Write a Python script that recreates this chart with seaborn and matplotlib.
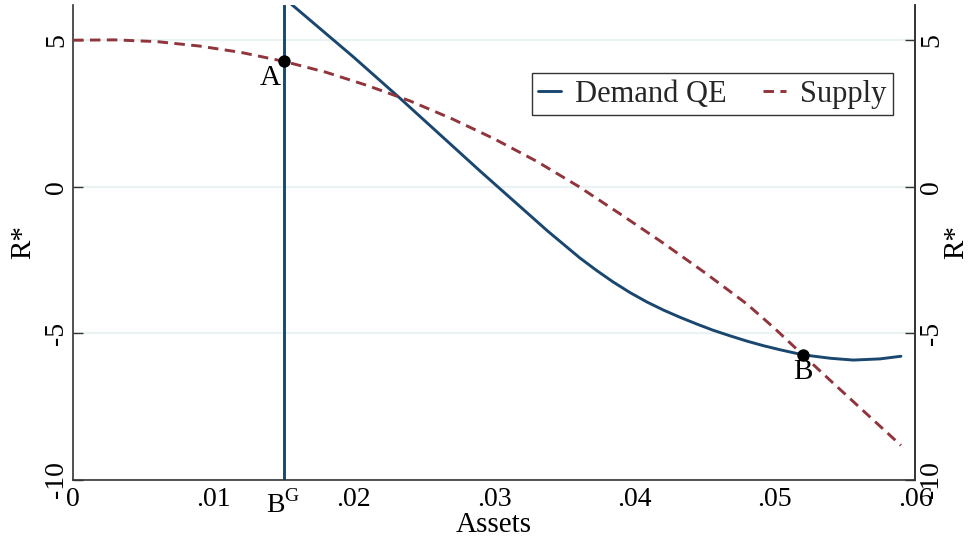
import matplotlib
matplotlib.use("Agg")
import matplotlib.pyplot as plt
import matplotlib.transforms as mtransforms
import seaborn as sns
import pandas as pd

# Demand curve under QE (R* against assets)
demand_x = [0.0150, 0.0155, 0.0200, 0.0233, 0.0250, 0.0290, 0.0314, 0.0338,
            0.0350, 0.0361, 0.0373, 0.0385, 0.0397, 0.0409, 0.0421, 0.0433,
            0.0445, 0.0456, 0.0468, 0.0480, 0.0492, 0.0504, 0.0520, 0.0540,
            0.0556, 0.0575, 0.0590]
demand_y = [6.45, 6.25, 4.42, 3.02, 2.28, 0.54, -0.48, -1.50,
            -1.98, -2.42, -2.85, -3.25, -3.61, -3.93, -4.21, -4.46,
            -4.69, -4.89, -5.08, -5.26, -5.42, -5.56, -5.73, -5.85,
            -5.91, -5.87, -5.78]

# Supply curve
supply_x = [0.000, 0.003, 0.006, 0.009, 0.012, 0.015, 0.018, 0.021, 0.024,
            0.027, 0.030, 0.033, 0.036, 0.039, 0.042, 0.045, 0.048, 0.050,
            0.052, 0.054, 0.056, 0.059]
supply_y = [5.00, 5.01, 4.95, 4.80, 4.58, 4.28, 3.91, 3.45, 2.93,
            2.32, 1.64, 0.88, 0.02, -0.93, -1.90, -2.92, -3.99, -4.83,
            -5.73, -6.62, -7.50, -8.82]

# Equilibrium points and government bond supply
point_names = ["A", "B"]
point_x = [0.015, 0.052]
point_y = [4.28, -5.73]
bg_x = 0.015

x_ticks = [0, 0.01, 0.02, 0.03, 0.04, 0.05, 0.06]
x_tick_labels = ["0", ".01", ".02", ".03", ".04", ".05", ".06"]
y_ticks = [-10, -5, 0, 5]
y_tick_labels = ["-10", "-5", "0", "5"]

NAVY = "#1a476f"
MAROON = "#90353b"
AXIS = "#333333"
FS = 21

sns.set_theme(style="white")
plt.rcParams["font.family"] = ["Liberation Serif", "DejaVu Serif"]
plt.rcParams["mathtext.fontset"] = "custom"
plt.rcParams["mathtext.rm"] = "Liberation Serif"

curves = pd.concat([
    pd.DataFrame({"Assets": demand_x, "R*": demand_y, "series": "Demand QE"}),
    pd.DataFrame({"Assets": supply_x, "R*": supply_y, "series": "Supply"}),
], ignore_index=True)
points = pd.DataFrame({"Assets": point_x, "R*": point_y, "name": point_names})

fig = plt.figure(figsize=(9.71, 5.42), dpi=100)
ax = fig.add_axes([0.0752, 0.1144, 0.8671, 0.8764])

ax.set_xlim(0, 0.06)
ax.set_ylim(-10, 6.2)

# light horizontal reference lines
for yv in y_ticks:
    ax.axhline(yv, color="#eaf2f3", lw=1.6, zorder=0)

ax.axvline(bg_x, color=NAVY, lw=2.1, zorder=2)

sns.lineplot(data=curves, x="Assets", y="R*", hue="series", style="series",
             palette={"Demand QE": NAVY, "Supply": MAROON},
             dashes={"Demand QE": "", "Supply": (3.6, 2.2)},
             linewidth=2.1, sort=False, estimator=None, ax=ax, zorder=3)

sns.scatterplot(data=points, x="Assets", y="R*", color="black", s=80,
                edgecolor="black", linewidth=0, ax=ax, zorder=5, legend=False)

for name, px, py in zip(point_names, point_x, point_y):
    if name == "A":
        ax.annotate(name, (px, py), xytext=(-2, -3), textcoords="offset points",
                    ha="right", va="top", fontsize=FS, color="black")
    else:
        ax.annotate(name, (px, py), xytext=(0, -3), textcoords="offset points",
                    ha="center", va="top", fontsize=FS, color="black")

# axes styling
for side in ["left", "bottom", "right"]:
    ax.spines[side].set_visible(True)
    ax.spines[side].set_color(AXIS)
    ax.spines[side].set_linewidth(1.2)
ax.spines["top"].set_visible(False)

ax.set_xticks(x_ticks)
ax.set_xticklabels(x_tick_labels)
ax.set_yticks(y_ticks)
ax.set_yticklabels(y_tick_labels, rotation=90, va="center")
ax.tick_params(axis="both", direction="in", length=7, width=1.0,
               color=AXIS, labelsize=20, labelcolor="black")
ax.tick_params(axis="x", pad=5)
ax.tick_params(axis="y", pad=3, left=True)

trans = mtransforms.blended_transform_factory(ax.transData, ax.transAxes)
ax.text(bg_x, -0.021, r"B$^{\mathrm{G}}$", transform=trans, ha="center",
        va="top", fontsize=20, color="black")

ax.set_xlabel("Assets", fontsize=FS, color="black")
ax.xaxis.set_label_coords(0.5, -0.068)
ax.set_ylabel("R*", fontsize=FS, color="black")
ax.yaxis.set_label_coords(-0.044, 0.5)

ax2 = ax.twinx()
ax2.set_ylim(ax.get_ylim())
ax2.set_yticks(y_ticks)
ax2.set_yticklabels(y_tick_labels, rotation=90, va="center")
ax2.tick_params(axis="y", direction="in", length=7, width=1.0, color=AXIS,
                labelsize=20, labelcolor="black", pad=3, right=True)
for side in ["left", "bottom", "top"]:
    ax2.spines[side].set_visible(False)
ax2.spines["right"].set_color(AXIS)
ax2.spines["right"].set_linewidth(1.2)
ax2.set_ylabel("R*", fontsize=FS, color="black", rotation=90)
ax2.yaxis.set_label_coords(1.033, 0.5)
ax2.grid(False)

handles, labels = ax.get_legend_handles_labels()
leg = ax.legend(handles, labels, loc="upper right", bbox_to_anchor=(0.974, 0.857),
                ncol=2, fontsize=22, frameon=True, fancybox=False,
                edgecolor="black", handlelength=0.75, handletextpad=0.45,
                columnspacing=1.2, borderpad=0.22, borderaxespad=0)
leg.get_frame().set_linewidth(1.0)

fig.savefig("out.png", dpi=100, facecolor="white")
